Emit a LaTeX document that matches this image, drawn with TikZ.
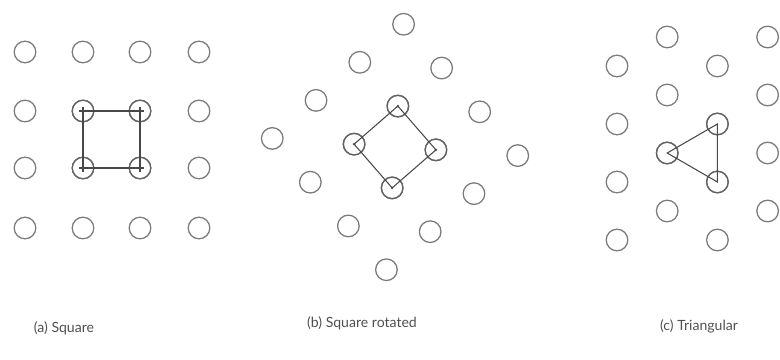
\documentclass[tikz,border=0pt]{standalone}
\usepackage{fontspec}
\setmainfont{Lato}
\usepackage{tikz}
\usetikzlibrary{positioning}
\usepackage{xcolor}
\definecolor{ringgray}{HTML}{7A7A7A}
\definecolor{linkgray}{HTML}{484848}
\definecolor{capgray}{HTML}{505050}

\begin{document}
\begin{tikzpicture}[
  x=0.025cm, y=-0.025cm,
  font=\fontsize{10}{12}\selectfont,
  site/.style={circle, draw=ringgray, line width=0.9pt, minimum size=0.54cm, inner sep=0pt},
  hub/.style={site, draw=linkgray!85},
  link/.style={draw=linkgray, line width=0.75pt},
  captext/.style={text=capgray, inner sep=0pt}
]
\useasboundingbox (0,0) rectangle (780,360);

% ---- (a) square lattice ----
\foreach \i/\x in {1/25,2/83,3/140,4/199}
  \foreach \j/\y in {1/52,2/111,3/168,4/228}
    \node[site] (a\i\j) at (\x,\y) {};
\foreach \n in {a22,a32,a23,a33}
  \node[hub] at (\n) {};

\draw[link] (a22.center) -- (a32.center) -- (a33.center) -- (a23.center) -- cycle;
\foreach \n in {a22,a32,a23,a33}
  \draw[link] (\n.center) +(-4,0) -- +(4,0) +(0,-4) -- +(0,4);

% ---- (b) square lattice, rotated ----
\begin{scope}[shift={(395,147)}, rotate=41]
\foreach \i in {1,...,4}
  \foreach \j in {1,...,4}
    \node[site] (b\i\j) at ({(\i-2.5)*58},{(\j-2.5)*58}) {};
\end{scope}
\foreach \n in {b22,b32,b23,b33}
  \node[hub] at (\n) {};

\draw[link] (b22.center) -- (b32.center) -- (b33.center) -- (b23.center) -- cycle;
\foreach \n in {b22,b32,b23,b33}
  \fill[linkgray] (\n) circle (1pt);

% ---- (c) triangular lattice ----
\foreach \i in {1,...,4}
  \foreach \j in {1,...,4} {
    \pgfmathsetmacro{\yo}{isodd(\i) ? 66 : 37}
    \node[site] (c\i\j) at ({617+(\i-1)*50.2},{\yo+(\j-1)*58}) {};
  }
\foreach \n in {c23,c32,c33}
  \node[hub] at (\n) {};

\draw[link] (c23.center) -- (c32.center) -- (c33.center) -- cycle;

% ---- captions ----
\node[captext] (capa) at (64,328)  {(a) Square};
\node[captext] (capb) at (362,323) {(b) Square rotated};
\node[captext] (capc) at (699,326) {(c) Triangular};

\end{tikzpicture}
\end{document}
